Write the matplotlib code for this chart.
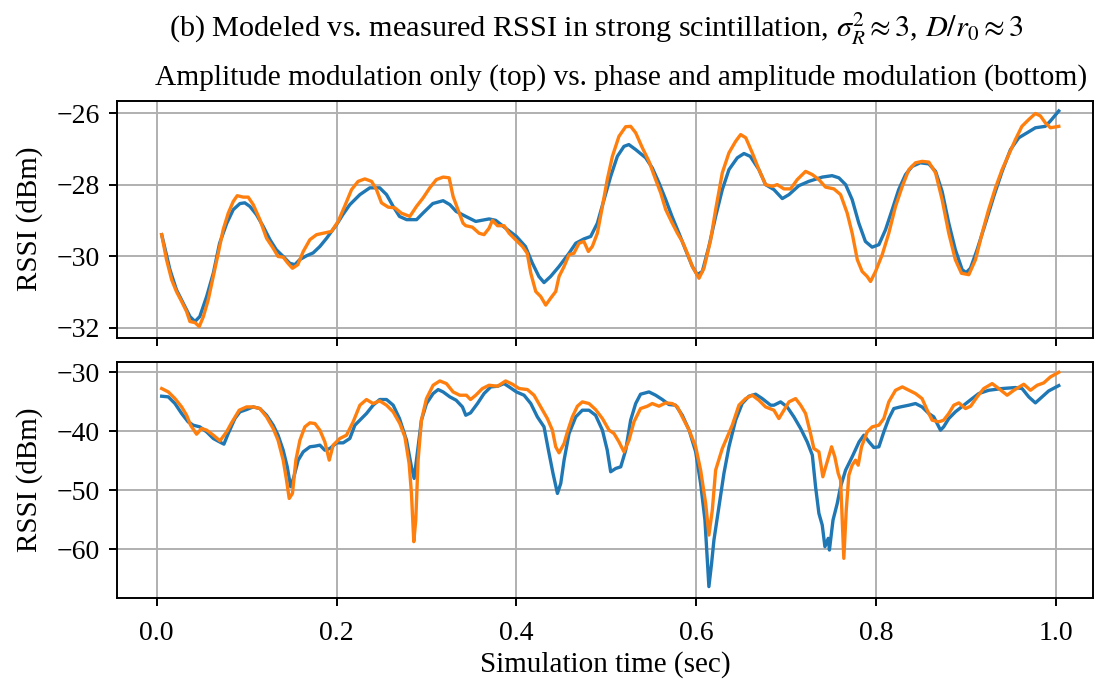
import matplotlib
matplotlib.use("Agg")
import matplotlib.pyplot as plt

# top panel: amplitude modulation only
t_top_model = [0.0056, 0.0148, 0.022, 0.0296, 0.037, 0.0426, 0.048, 0.0556, 0.063, 0.070, 0.078, 0.0852, 0.0926, 0.098,
               0.1037, 0.111, 0.1185, 0.126, 0.133, 0.1407, 0.148, 0.1537, 0.159, 0.1667, 0.174, 0.1815, 0.189, 0.2,
               0.207, 0.2148, 0.226, 0.237, 0.248, 0.2556, 0.263, 0.270, 0.278, 0.289, 0.296, 0.307, 0.3185, 0.326,
               0.333, 0.3437, 0.3548, 0.3696, 0.377, 0.388, 0.4, 0.410, 0.4178, 0.425, 0.4307, 0.438, 0.4474, 0.4585,
               0.466, 0.475, 0.4826, 0.49, 0.4974, 0.5048, 0.5122, 0.5196, 0.525, 0.5326, 0.5437, 0.551, 0.5585,
               0.566, 0.573, 0.5807, 0.588, 0.5956, 0.601, 0.6067, 0.614, 0.6215, 0.6289, 0.6363, 0.6456, 0.653,
               0.660, 0.6696, 0.677, 0.6863, 0.6956, 0.703, 0.714, 0.725, 0.74, 0.751, 0.7585, 0.766, 0.7733, 0.7807,
               0.788, 0.7955, 0.803, 0.8104, 0.8178, 0.825, 0.8326, 0.84, 0.849, 0.8585, 0.866, 0.8733, 0.8807, 0.888,
               0.8956, 0.9, 0.9048, 0.9122, 0.9215, 0.9307, 0.94, 0.9493, 0.9585, 0.9678, 0.977, 0.988, 0.9937, 1.003]
rssi_top_model = [-29.39, -30.37, -30.93, -31.31, -31.68, -31.82, -31.68, -31.12, -30.47, -29.63, -29.07, -28.69, -28.52,
                  -28.50, -28.60, -28.83, -29.16, -29.53, -29.81, -30.0, -30.19, -30.23, -30.09, -29.98, -29.9, -29.72,
                  -29.49, -29.11, -28.83, -28.55, -28.27, -28.08, -28.08, -28.27, -28.60, -28.88, -28.97, -28.97,
                  -28.79, -28.52, -28.44, -28.55, -28.74, -28.88, -29.02, -28.95, -28.99, -29.21, -29.44, -29.72,
                  -30.19, -30.56, -30.73, -30.56, -30.28, -29.91, -29.63, -29.51, -29.44, -29.07, -28.41, -27.76,
                  -27.2, -26.92, -26.87, -27.01, -27.24, -27.52, -27.94, -28.41, -28.88, -29.35, -29.81, -30.28,
                  -30.51, -30.42, -29.72, -28.88, -28.13, -27.57, -27.24, -27.12, -27.20, -27.57, -27.99, -28.13,
                  -28.38, -28.27, -28.02, -27.90, -27.78, -27.74, -27.80, -27.99, -28.41, -29.07, -29.58, -29.74,
                  -29.67, -29.25, -28.69, -28.13, -27.71, -27.48, -27.38, -27.41, -27.62, -28.18, -29.07, -29.81,
                  -30.37, -30.45, -30.33, -29.81, -29.07, -28.32, -27.62, -27.01, -26.68, -26.54, -26.40, -26.36,
                  -26.21, -25.93]

t_top_meas = [0.0056, 0.011, 0.0167, 0.022, 0.0278, 0.0333, 0.037, 0.0426, 0.0474, 0.052, 0.0574, 0.063, 0.0685,
              0.074, 0.0796, 0.0852, 0.0896, 0.0963, 0.1018, 0.1074, 0.1148, 0.1222, 0.1296, 0.135, 0.1407, 0.146,
              0.151, 0.157, 0.163, 0.1704, 0.1778, 0.185, 0.1944, 0.2018, 0.209, 0.2167, 0.224, 0.2315, 0.239,
              0.2444, 0.25, 0.2574, 0.2648, 0.2722, 0.2815, 0.2889, 0.2963, 0.3037, 0.311, 0.3185, 0.3252, 0.3296,
              0.335, 0.3407, 0.3437, 0.351, 0.3585, 0.364, 0.3696, 0.3733, 0.379, 0.3863, 0.3919, 0.399, 0.4067,
              0.412, 0.416, 0.4215, 0.427, 0.4326, 0.438, 0.4437, 0.4474, 0.453, 0.4585, 0.464, 0.4696, 0.475, 0.48,
              0.4844, 0.49, 0.4956, 0.501, 0.5067, 0.514, 0.5215, 0.527, 0.5326, 0.54, 0.5474, 0.5548, 0.5604,
              0.566, 0.5733, 0.579, 0.5844, 0.59, 0.5956, 0.603, 0.6085, 0.616, 0.6215, 0.6289, 0.6363, 0.6437,
              0.6493, 0.655, 0.6622, 0.6696, 0.677, 0.6844, 0.69, 0.6974, 0.7048, 0.7122, 0.7215, 0.729, 0.7363,
              0.7437, 0.753, 0.7604, 0.7678, 0.7733, 0.779, 0.7844, 0.79, 0.7937, 0.7993, 0.8067, 0.814, 0.8215,
              0.829, 0.8363, 0.8437, 0.851, 0.8585, 0.866, 0.8733, 0.8807, 0.888, 0.8948, 0.903, 0.9104, 0.9178,
              0.925, 0.9326, 0.94, 0.9474, 0.9548, 0.962, 0.9696, 0.977, 0.9826, 0.988, 0.9937, 1.003]
rssi_top_meas = [-29.39, -30.09, -30.65, -30.98, -31.26, -31.54, -31.82, -31.85, -31.96, -31.68, -31.21, -30.56,
                 -29.91, -29.25, -28.79, -28.46, -28.30, -28.34, -28.34, -28.55, -28.97, -29.49, -29.77, -30.0,
                 -30.02, -30.19, -30.33, -30.23, -29.86, -29.53, -29.39, -29.35, -29.30, -29.02, -28.60, -28.13,
                 -27.90, -27.83, -27.90, -28.13, -28.50, -28.62, -28.64, -28.79, -28.88, -28.60, -28.36, -28.08,
                 -27.85, -27.78, -27.80, -28.32, -28.69, -29.07, -29.14, -29.18, -29.35, -29.39, -29.21, -28.99,
                 -29.14, -29.14, -29.35, -29.53, -29.72, -29.91, -30.47, -30.98, -31.12, -31.36, -31.17, -30.98,
                 -30.56, -30.28, -29.95, -29.91, -29.63, -29.58, -29.86, -29.72, -29.35, -28.60, -27.85, -27.20,
                 -26.64, -26.37, -26.36, -26.54, -26.96, -27.34, -27.85, -28.22, -28.69, -29.07, -29.35, -29.58,
                 -29.91, -30.28, -30.61, -30.33, -29.53, -28.69, -27.66, -27.10, -26.78, -26.59, -26.68, -27.10,
                 -27.57, -27.99, -28.04, -27.99, -28.11, -28.11, -27.85, -27.62, -27.71, -27.85, -28.06, -28.11,
                 -28.27, -28.79, -29.35, -30.09, -30.42, -30.56, -30.70, -30.42, -29.95, -29.35, -28.60, -28.04,
                 -27.57, -27.38, -27.34, -27.36, -27.66, -28.41, -29.35, -30.09, -30.47, -30.51, -30.09, -29.35,
                 -28.69, -28.08, -27.57, -27.15, -26.73, -26.36, -26.17, -26.0, -26.07, -26.26, -26.40, -26.36]

# bottom panel: phase and amplitude modulation
t_bot_model = [0.0056, 0.013, 0.0204, 0.0278, 0.035, 0.0407, 0.048, 0.0556, 0.063, 0.0685, 0.0748, 0.0796, 0.087,
               0.0926, 0.1, 0.1074, 0.1148, 0.1222, 0.1296, 0.135, 0.1407, 0.1452, 0.149, 0.1526, 0.1574, 0.163,
               0.1704, 0.176, 0.1815, 0.187, 0.1926, 0.2, 0.2074, 0.2148, 0.2204, 0.226, 0.2333, 0.2407, 0.248,
               0.2556, 0.263, 0.270, 0.2778, 0.2833, 0.2863, 0.2907, 0.2944, 0.30, 0.3074, 0.313, 0.3185, 0.326,
               0.333, 0.34, 0.3437, 0.349, 0.3567, 0.364, 0.3715, 0.379, 0.3863, 0.3919, 0.4, 0.4085, 0.416, 0.4233,
               0.4307, 0.4356, 0.4407, 0.4456, 0.4493, 0.453, 0.4585, 0.466, 0.4733, 0.4807, 0.488, 0.4956, 0.501,
               0.5048, 0.5104, 0.516, 0.5215, 0.527, 0.5326, 0.538, 0.5474, 0.5548, 0.5622, 0.5696, 0.577, 0.5844,
               0.592, 0.5993, 0.6048, 0.6096, 0.6122, 0.614, 0.617, 0.6196, 0.6252, 0.6307, 0.6363, 0.6437, 0.651,
               0.6585, 0.666, 0.6733, 0.6826, 0.6863, 0.6937, 0.701, 0.7085, 0.716, 0.7233, 0.729, 0.7326, 0.7363,
               0.74, 0.743, 0.7467, 0.748, 0.752, 0.7567, 0.7604, 0.766, 0.7733, 0.781, 0.7863, 0.792, 0.7974, 0.803,
               0.8085, 0.814, 0.8196, 0.827, 0.8363, 0.8437, 0.851, 0.8585, 0.864, 0.8678, 0.8715, 0.875, 0.8807,
               0.888, 0.8974, 0.9067, 0.914, 0.9252, 0.94, 0.9548, 0.9622, 0.9696, 0.977, 0.9844, 0.9918, 1.003]
rssi_bot_model = [-34.06, -34.17, -35.30, -36.99, -38.40, -38.97, -39.25, -40.10, -41.22, -41.68, -42.18, -40.38,
                  -37.84, -36.71, -36.32, -35.87, -36.15, -37.28, -38.97, -40.66, -43.20, -46.02, -49.40, -47.71,
                  -44.89, -43.48, -42.63, -42.52, -42.35, -43.20, -42.92, -41.96, -41.96, -41.22, -38.97, -38.12,
                  -36.99, -35.58, -34.62, -34.62, -35.58, -37.84, -41.51, -46.02, -47.99, -42.63, -38.12, -35.30,
                  -33.61, -32.93, -33.33, -34.17, -34.74, -35.87, -37.28, -36.88, -35.30, -33.61, -32.48, -32.37,
                  -31.92, -32.48, -33.33, -33.89, -35.30, -37.56, -39.25, -43.20, -47.15, -50.53, -48.84, -44.89,
                  -40.38, -37.56, -36.43, -36.43, -37.28, -39.81, -43.20, -46.86, -46.30, -46.02, -43.20, -38.12,
                  -35.30, -33.72, -33.33, -33.89, -34.62, -35.47, -35.58, -37.28, -39.81, -43.48, -48.84, -55.04,
                  -61.81, -66.32, -62.37, -58.43, -52.79, -47.15, -42.63, -38.12, -35.30, -34.06, -33.72, -34.46,
                  -35.58, -35.58, -35.02, -35.87, -37.56, -39.53, -41.79, -44.04, -49.40, -53.91, -55.89, -59.55,
                  -58.14, -60.12, -55.04, -52.22, -49.40, -46.58, -44.33, -41.79, -40.66, -41.79, -42.75, -42.63,
                  -40.10, -37.84, -36.15, -35.87, -35.58, -35.30, -35.87, -36.99, -37.56, -38.69, -39.81, -39.25,
                  -37.84, -36.71, -35.58, -34.46, -33.61, -33.05, -32.76, -32.59, -32.76, -34.17, -35.19, -34.17,
                  -33.16, -32.26]

t_bot_meas = [0.0056, 0.013, 0.0204, 0.0278, 0.0333, 0.0378, 0.0444, 0.05, 0.0556, 0.063, 0.0704, 0.0778, 0.0833,
              0.0918, 0.1, 0.1074, 0.1148, 0.1222, 0.1296, 0.135, 0.1407, 0.1444, 0.1474, 0.151, 0.1548, 0.1593,
              0.1648, 0.1704, 0.176, 0.1815, 0.187, 0.1919, 0.1963, 0.2037, 0.2111, 0.2185, 0.226, 0.2333, 0.2407,
              0.248, 0.2556, 0.263, 0.2704, 0.276, 0.2807, 0.2833, 0.2859, 0.2881, 0.2907, 0.2944, 0.30, 0.3074,
              0.3148, 0.3222, 0.3296, 0.337, 0.3444, 0.349, 0.3548, 0.3622, 0.3696, 0.379, 0.388, 0.3956, 0.403,
              0.4122, 0.4196, 0.427, 0.4344, 0.44, 0.4437, 0.4474, 0.453, 0.4567, 0.4622, 0.4678, 0.4733, 0.4807,
              0.488, 0.4956, 0.503, 0.5085, 0.514, 0.5196, 0.5252, 0.5307, 0.538, 0.5456, 0.551, 0.5585, 0.5659,
              0.5733, 0.579, 0.5844, 0.592, 0.5993, 0.6048, 0.6104, 0.614, 0.6178, 0.6215, 0.6289, 0.6344, 0.64,
              0.6474, 0.6548, 0.6622, 0.6696, 0.677, 0.6863, 0.6918, 0.6974, 0.703, 0.7104, 0.716, 0.7215, 0.727,
              0.7307, 0.7363, 0.7407, 0.7444, 0.7504, 0.754, 0.7578, 0.7604, 0.764, 0.7667, 0.7696, 0.7733, 0.777,
              0.78, 0.7837, 0.79, 0.7956, 0.803, 0.8085, 0.814, 0.8215, 0.829, 0.8363, 0.8437, 0.851, 0.8567,
              0.8622, 0.8696, 0.875, 0.8807, 0.8863, 0.8919, 0.8993, 0.905, 0.9122, 0.9196, 0.9289, 0.9363, 0.9456,
              0.953, 0.9641, 0.9715, 0.979, 0.9863, 0.9937, 1.003]
rssi_bot_meas = [-32.76, -33.33, -34.46, -35.87, -37.28, -38.97, -40.49, -39.53, -39.81, -40.66, -41.62, -40.10,
                 -38.57, -36.43, -35.87, -35.87, -36.15, -37.56, -39.53, -41.51, -44.89, -48.27, -51.38, -50.53,
                 -44.89, -41.51, -39.25, -38.57, -38.69, -39.81, -41.79, -44.89, -42.35, -41.22, -40.66, -38.40,
                 -35.58, -34.62, -35.30, -34.85, -35.58, -36.71, -38.69, -40.94, -45.45, -50.53, -58.71, -55.04,
                 -44.89, -38.12, -34.46, -32.20, -31.47, -31.92, -33.33, -33.89, -33.89, -34.62, -33.89, -32.76,
                 -32.20, -32.37, -31.47, -32.03, -32.76, -32.93, -33.89, -35.87, -37.84, -39.81, -42.63, -43.65,
                 -42.07, -40.10, -37.56, -35.75, -35.02, -35.30, -36.32, -37.84, -39.81, -40.38, -41.79, -43.48,
                 -41.51, -38.40, -36.15, -35.75, -35.30, -35.75, -35.19, -35.30, -35.87, -37.56, -39.81, -42.63,
                 -46.58, -52.22, -57.58, -53.35, -46.58, -42.92, -40.94, -38.97, -35.58, -34.46, -33.89, -34.74,
                 -35.87, -36.43, -37.84, -36.43, -35.02, -34.46, -35.58, -36.99, -40.38, -42.92, -43.48, -47.71,
                 -45.74, -42.63, -44.33, -47.15, -48.27, -61.53, -53.35, -47.43, -45.74, -44.89, -45.74, -42.63,
                 -40.10, -39.25, -38.97, -37.84, -35.02, -33.05, -32.48, -33.05, -33.61, -34.46, -36.43, -38.12,
                 -38.40, -38.12, -36.99, -35.58, -35.19, -36.15, -35.75, -34.17, -32.76, -31.92, -32.76, -33.89,
                 -33.05, -32.03, -33.05, -32.20, -31.80, -30.79, -30.0]

plt.rcParams['font.family'] = ['Liberation Serif', 'DejaVu Serif']
plt.rcParams['mathtext.fontset'] = 'stix'
plt.rcParams['axes.linewidth'] = 1.4

fig = plt.figure(figsize=(11.03, 6.83), dpi=100)
ax1 = fig.add_axes([0.1058, 0.5057, 0.8851, 0.3470])
ax2 = fig.add_axes([0.1058, 0.1240, 0.8851, 0.3460], sharex=ax1)

blue = '#1f77b4'
orange = '#ff7f0e'
ax1.plot(t_top_model, rssi_top_model, color=blue, lw=2.4)
ax1.plot(t_top_meas, rssi_top_meas, color=orange, lw=2.4)
ax2.plot(t_bot_model, rssi_bot_model, color=blue, lw=2.4)
ax2.plot(t_bot_meas, rssi_bot_meas, color=orange, lw=2.4)

ax1.set_xlim(-0.0444, 1.041)
ax1.set_ylim(-32.27, -25.64)
ax2.set_ylim(-68.3, -28.26)
ax1.set_yticks([-32, -30, -28, -26])
ax2.set_yticks([-60, -50, -40, -30])
ax2.set_xticks([0.0, 0.2, 0.4, 0.6, 0.8, 1.0])

for ax in (ax1, ax2):
    ax.grid(True, color='#b0b0b0', lw=1.4)
    ax.tick_params(width=1.4, length=6, labelsize=20)
    ax.tick_params(axis='x', pad=10)
    ax.tick_params(axis='y', pad=6)
    ax.set_ylabel('RSSI (dBm)', fontsize=21, labelpad=10)
ax1.tick_params(labelbottom=False)

ax2.set_xlabel('Simulation time (sec)', fontsize=21)
fig.text(0.5635, 0.887, 'Amplitude modulation only (top) vs. phase and amplitude modulation (bottom)',
         ha='center', va='center', fontsize=21.2)
fig.text(0.541, 0.958,
         r'(b) Modeled vs. measured RSSI in strong scintillation, $\sigma_R^2 \approx 3$, $D/r_0 \approx 3$',
         ha='center', va='center', fontsize=21.8)

fig.savefig('out.png', dpi=100)
